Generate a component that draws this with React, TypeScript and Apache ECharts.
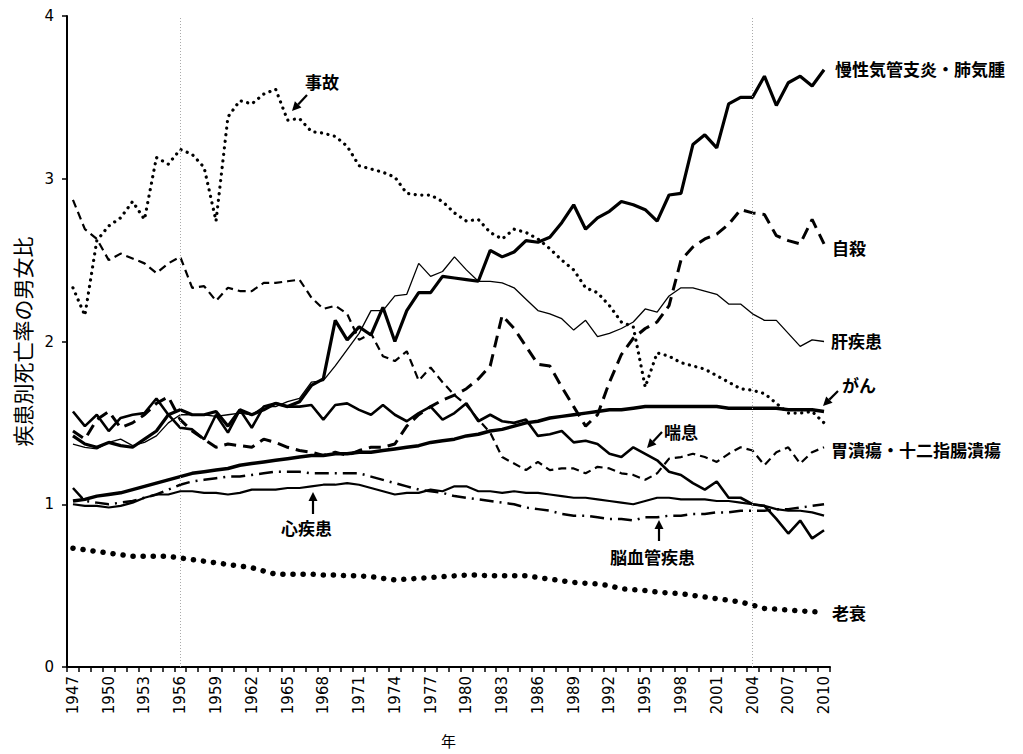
import React, { useEffect, useRef } from 'react';
import * as echarts from 'echarts';

const years = ['1947','1948','1949','1950','1951','1952','1953','1954','1955','1956','1957','1958','1959','1960','1961','1962','1963','1964','1965','1966','1967','1968','1969','1970','1971','1972','1973','1974','1975','1976','1977','1978','1979','1980','1981','1982','1983','1984','1985','1986','1987','1988','1989','1990','1991','1992','1993','1994','1995','1996','1997','1998','1999','2000','2001','2002','2003','2004','2005','2006','2007','2008','2009','2010'];

const jiko = [2.33,2.16,2.62,2.71,2.76,2.86,2.75,3.13,3.09,3.18,3.15,3.07,2.74,3.38,3.48,3.46,3.52,3.55,3.36,3.37,3.29,3.28,3.26,3.20,3.08,3.06,3.04,3.01,2.91,2.90,2.90,2.86,2.79,2.74,2.75,2.67,2.63,2.69,2.67,2.63,2.57,2.50,2.44,2.33,2.30,2.22,2.12,2.09,1.72,1.93,1.91,1.87,1.85,1.83,1.79,1.75,1.71,1.70,1.68,1.62,1.56,1.56,1.57,1.50];
const copd = [1.42,1.37,1.35,1.38,1.36,1.35,1.40,1.45,1.55,1.58,1.55,1.55,1.57,1.48,1.58,1.55,1.58,1.62,1.60,1.63,1.73,1.77,2.13,2.01,2.09,2.04,2.21,2.00,2.19,2.30,2.30,2.40,2.39,2.38,2.37,2.56,2.52,2.55,2.62,2.61,2.64,2.73,2.84,2.69,2.76,2.80,2.86,2.84,2.81,2.74,2.90,2.91,3.21,3.27,3.19,3.46,3.50,3.50,3.63,3.45,3.59,3.63,3.57,3.67];
const jisatsu = [1.45,1.40,1.52,1.57,1.47,1.50,1.55,1.62,1.66,1.52,1.45,1.40,1.35,1.37,1.36,1.35,1.40,1.38,1.35,1.33,1.32,1.30,1.32,1.30,1.33,1.35,1.35,1.37,1.48,1.55,1.60,1.64,1.67,1.71,1.77,1.85,2.16,2.08,1.97,1.86,1.85,1.72,1.60,1.48,1.55,1.75,1.92,2.02,2.08,2.12,2.22,2.50,2.58,2.63,2.66,2.72,2.81,2.79,2.78,2.65,2.62,2.60,2.75,2.60];
const kan = [1.37,1.35,1.34,1.38,1.40,1.36,1.38,1.42,1.50,1.55,1.55,1.55,1.54,1.55,1.56,1.55,1.60,1.60,1.63,1.65,1.75,1.76,1.85,1.95,2.05,2.19,2.19,2.28,2.29,2.48,2.40,2.43,2.52,2.44,2.37,2.37,2.36,2.33,2.26,2.19,2.17,2.14,2.07,2.13,2.03,2.05,2.08,2.12,2.20,2.18,2.28,2.33,2.33,2.31,2.29,2.23,2.23,2.17,2.13,2.13,2.05,1.97,2.01,2.00];
const gan = [1.02,1.03,1.05,1.06,1.07,1.09,1.11,1.13,1.15,1.17,1.19,1.20,1.21,1.22,1.24,1.25,1.26,1.27,1.28,1.29,1.30,1.30,1.31,1.31,1.32,1.32,1.33,1.34,1.35,1.36,1.38,1.39,1.40,1.42,1.43,1.45,1.46,1.48,1.50,1.51,1.53,1.54,1.55,1.56,1.57,1.58,1.58,1.59,1.60,1.60,1.60,1.60,1.60,1.60,1.60,1.59,1.59,1.59,1.59,1.59,1.58,1.58,1.58,1.57];
const ikaiyo = [2.87,2.69,2.63,2.50,2.54,2.51,2.48,2.42,2.48,2.52,2.33,2.34,2.25,2.33,2.31,2.31,2.36,2.36,2.37,2.38,2.27,2.20,2.22,2.17,2.01,2.05,1.91,1.88,1.94,1.76,1.84,1.75,1.67,1.61,1.52,1.44,1.29,1.25,1.21,1.26,1.21,1.22,1.22,1.19,1.23,1.22,1.19,1.18,1.15,1.19,1.28,1.29,1.31,1.29,1.26,1.31,1.35,1.33,1.24,1.32,1.35,1.25,1.32,1.35];
const zensoku = [1.57,1.48,1.55,1.45,1.53,1.55,1.56,1.65,1.55,1.47,1.46,1.40,1.55,1.44,1.58,1.47,1.60,1.62,1.60,1.60,1.61,1.52,1.61,1.62,1.58,1.55,1.61,1.55,1.51,1.56,1.60,1.52,1.56,1.62,1.51,1.55,1.51,1.50,1.52,1.42,1.43,1.45,1.38,1.39,1.37,1.31,1.29,1.35,1.31,1.27,1.20,1.18,1.13,1.09,1.14,1.04,1.04,1.00,0.99,0.91,0.82,0.90,0.79,0.84];
const shin = [1.00,0.99,0.99,0.98,0.99,1.01,1.04,1.06,1.06,1.08,1.08,1.07,1.07,1.06,1.07,1.09,1.09,1.09,1.10,1.10,1.11,1.12,1.12,1.13,1.12,1.10,1.08,1.06,1.07,1.07,1.09,1.08,1.11,1.11,1.08,1.08,1.07,1.08,1.07,1.07,1.06,1.05,1.04,1.04,1.03,1.02,1.01,1.00,1.02,1.04,1.04,1.03,1.03,1.03,1.02,1.02,1.01,1.00,0.99,0.97,0.96,0.96,0.95,0.93];
const nou = [1.10,1.02,1.01,1.00,1.01,1.02,1.04,1.06,1.09,1.12,1.14,1.15,1.16,1.17,1.17,1.18,1.19,1.20,1.20,1.20,1.19,1.19,1.19,1.19,1.19,1.17,1.15,1.13,1.11,1.09,1.08,1.07,1.05,1.04,1.03,1.02,1.01,1.00,0.98,0.97,0.96,0.94,0.93,0.93,0.92,0.91,0.91,0.90,0.92,0.92,0.93,0.93,0.94,0.94,0.95,0.95,0.96,0.96,0.96,0.97,0.97,0.98,0.99,1.00];
const rosui = [0.73,0.72,0.71,0.70,0.69,0.68,0.68,0.68,0.68,0.67,0.66,0.65,0.64,0.63,0.62,0.61,0.59,0.57,0.57,0.57,0.57,0.565,0.565,0.56,0.56,0.555,0.545,0.535,0.54,0.545,0.55,0.555,0.56,0.565,0.565,0.56,0.56,0.56,0.56,0.55,0.54,0.53,0.52,0.515,0.51,0.50,0.48,0.475,0.47,0.46,0.455,0.45,0.44,0.43,0.42,0.41,0.40,0.38,0.36,0.355,0.35,0.345,0.34,0.335];

const yTicks = [0, 1, 2, 3, 4];
const markYears = ['1956', '2004'];

const FONT_NUM = '"DejaVu Sans", Verdana, sans-serif';
const FONT_JP = '"Noto Sans CJK JP", "Noto Sans", sans-serif';

function arrow(x1: number, y1: number, x2: number, y2: number) {
  const dx = x2 - x1, dy = y2 - y1;
  const len = Math.sqrt(dx * dx + dy * dy);
  const ux = dx / len, uy = dy / len;
  const hl = 9, hw = 4.5;
  const bx = x2 - ux * hl, by = y2 - uy * hl;
  const nx = -uy, ny = ux;
  return [
    { type: 'line', shape: { x1, y1, x2: bx, y2: by }, style: { stroke: '#000', lineWidth: 2.2 } },
    { type: 'polygon', shape: { points: [[x2, y2], [bx + nx * hw, by + ny * hw], [bx - nx * hw, by - ny * hw]] }, style: { fill: '#000' } },
  ];
}

function label(text: string, x: number, y: number) {
  return {
    type: 'text', x, y,
    style: { text, fontFamily: FONT_JP, fontSize: 17, fontWeight: 'bold', fill: '#000', verticalAlign: 'middle' },
  };
}

function lineSeries(name: string, data: number[], lineStyle: any, z = 2) {
  return { name, type: 'line', data, symbol: 'none', showSymbol: false, smooth: false, z, lineStyle: { color: '#000', ...lineStyle } };
}

export default function App() {
  const ref = useRef<HTMLDivElement>(null);
  useEffect(() => {
    if (!ref.current) return;
    const chart = echarts.init(ref.current, undefined, { renderer: 'svg' });
    const series: any[] = [
      lineSeries('老衰', rosui, { width: 5.5, type: [0.1, 10], cap: 'round' }),
      lineSeries('事故', jiko, { width: 3.2, type: [0.1, 6.5], cap: 'round' }),
      lineSeries('慢性気管支炎・肺気腫', copd, { width: 3.2 }),
      lineSeries('自殺', jisatsu, { width: 3, type: [12, 7] }),
      lineSeries('肝疾患', kan, { width: 1.3 }),
      lineSeries('がん', gan, { width: 3.5 }),
      lineSeries('胃潰瘍・十二指腸潰瘍', ikaiyo, { width: 2.2, type: [8, 5] }),
      lineSeries('喘息', zensoku, { width: 2.6 }),
      lineSeries('心疾患', shin, { width: 2.2 }),
      lineSeries('脳血管疾患', nou, { width: 2.5, type: [14, 6, 2, 6] }),
    ];
    series[0].markLine = {
      silent: true,
      symbol: ['none', 'none'],
      label: { show: false },
      lineStyle: { type: [1, 2], color: '#aaa', width: 1 },
      data: markYears.map((y) => ({ xAxis: y })),
    };
    chart.setOption({
      animation: false,
      backgroundColor: '#fff',
      grid: { left: 67, right: 193, top: 16, bottom: 87, containLabel: false, outerBoundsMode: 'none' },
      xAxis: {
        type: 'category',
        data: years,
        boundaryGap: true,
        name: '年',
        nameLocation: 'middle',
        nameGap: 66,
        nameTextStyle: { fontFamily: FONT_JP, fontSize: 15, color: '#000' },
        axisLine: { lineStyle: { color: '#000', width: 2 } },
        axisTick: { show: true, interval: 0, length: 5, lineStyle: { color: '#000', width: 1.5 } },
        axisLabel: { interval: 2, rotate: 90, fontFamily: FONT_NUM, fontSize: 15, color: '#000', margin: 9 },
        splitLine: { show: false },
      },
      yAxis: {
        type: 'value',
        min: yTicks[0],
        max: yTicks[yTicks.length - 1],
        interval: 1,
        name: '疾患別死亡率の男女比',
        nameLocation: 'middle',
        nameRotate: 90,
        nameGap: 35,
        nameTextStyle: { fontFamily: FONT_JP, fontSize: 21, color: '#000' },
        axisLine: { show: true, lineStyle: { color: '#000', width: 2 } },
        axisTick: { show: true, length: 5, lineStyle: { color: '#000', width: 1.5 } },
        axisLabel: { fontFamily: FONT_NUM, fontSize: 15, color: '#000', margin: 13 },
        splitLine: { show: false },
      },
      series,
      graphic: [
        label('事故', 305, 81),
        label('慢性気管支炎・肺気腫', 835, 68),
        label('自殺', 832, 247),
        label('肝疾患', 831, 340),
        label('がん', 842, 384),
        label('喘息', 664, 431),
        label('胃潰瘍・十二指腸潰瘍', 831, 449),
        label('心疾患', 281, 527),
        label('脳血管疾患', 610, 556),
        label('老衰', 832, 612),
        ...arrow(307, 95, 292, 111),
        ...arrow(838, 391, 823, 406),
        ...arrow(662, 432, 647, 448),
        ...arrow(313, 514, 313, 492),
        ...arrow(659, 541, 659, 520),
      ],
    });
    return () => chart.dispose();
  }, []);
  return <div ref={ref} style={{ position: 'fixed', left: 0, top: 0, width: 1023, height: 754, background: '#fff' }} />;
}
